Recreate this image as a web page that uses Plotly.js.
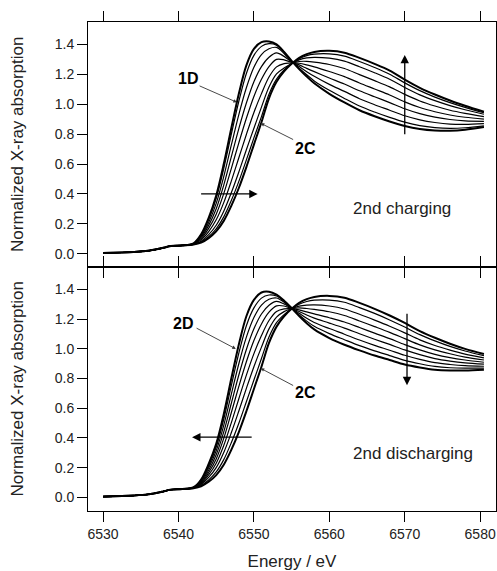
<!DOCTYPE html>
<html>
<head>
<meta charset="utf-8">
<script src="https://cdn.plot.ly/plotly-3.0.1.min.js"></script>
<style>html,body{margin:0;padding:0;background:#fff;}#chart{width:497px;height:571px;}</style>
</head>
<body>
<div id="chart"></div>
<script>
// Energy grid (eV)
const energy = [6530, 6534, 6536, 6538, 6539, 6540.5, 6542, 6543, 6544, 6545, 6546, 6547, 6548, 6549, 6550, 6551, 6552, 6553, 6554, 6555, 6556, 6557, 6558, 6560, 6562, 6564, 6566, 6568, 6570, 6572, 6574, 6576, 6578, 6580.5];

// ---- 2nd charging (top panel): 1D -> 2C ----
const chg_1D = [0.005,0.012,0.02,0.04,0.052,0.056,0.07,0.13,0.24,0.39,0.60,0.84,1.07,1.26,1.37,1.415,1.42,1.40,1.35,1.29,1.235,1.185,1.14,1.07,1.012,0.96,0.92,0.885,0.855,0.835,0.825,0.823,0.83,0.848];
const chg_a = [0.005,0.012,0.02,0.04,0.052,0.056,0.069,0.126,0.229,0.371,0.570,0.798,1.020,1.206,1.327,1.387,1.405,1.395,1.348,1.288,1.241,1.197,1.156,1.093,1.039,0.988,0.948,0.912,0.880,0.857,0.844,0.839,0.843,0.856];
const chg_b = [0.005,0.012,0.02,0.04,0.052,0.056,0.068,0.118,0.210,0.337,0.516,0.726,0.931,1.110,1.247,1.332,1.371,1.380,1.339,1.286,1.252,1.218,1.187,1.133,1.086,1.037,0.997,0.960,0.923,0.896,0.878,0.867,0.865,0.870];
const chg_c = [0.005,0.012,0.02,0.04,0.052,0.056,0.067,0.110,0.190,0.301,0.459,0.648,0.837,1.008,1.151,1.252,1.314,1.343,1.320,1.283,1.263,1.240,1.218,1.176,1.135,1.090,1.050,1.011,0.970,0.937,0.914,0.898,0.889,0.886];
const chg_d = [0.005,0.012,0.02,0.04,0.052,0.056,0.066,0.101,0.170,0.265,0.402,0.570,0.742,0.906,1.052,1.167,1.252,1.300,1.297,1.280,1.274,1.263,1.250,1.219,1.185,1.142,1.102,1.062,1.016,0.978,0.950,0.928,0.913,0.901];
const chg_e = [0.005,0.012,0.02,0.04,0.052,0.056,0.065,0.093,0.148,0.227,0.342,0.486,0.642,0.798,0.945,1.071,1.182,1.250,1.272,1.276,1.286,1.287,1.282,1.266,1.239,1.198,1.158,1.116,1.066,1.022,0.988,0.960,0.939,0.917];
const chg_f = [0.005,0.012,0.02,0.04,0.052,0.056,0.063,0.084,0.128,0.191,0.285,0.408,0.547,0.696,0.839,0.981,1.115,1.203,1.242,1.273,1.297,1.310,1.314,1.308,1.288,1.251,1.211,1.167,1.112,1.063,1.024,0.991,0.963,0.933];
const chg_g = [0.005,0.012,0.02,0.04,0.052,0.056,0.063,0.079,0.114,0.167,0.247,0.356,0.484,0.628,0.775,0.917,1.067,1.168,1.229,1.271,1.304,1.325,1.335,1.337,1.322,1.286,1.246,1.201,1.143,1.091,1.048,1.011,0.979,0.943];
const chg_2C = [0.005,0.012,0.02,0.04,0.052,0.056,0.062,0.075,0.105,0.15,0.22,0.32,0.44,0.58,0.73,0.88,1.04,1.15,1.22,1.27,1.31,1.335,1.35,1.357,1.345,1.31,1.27,1.225,1.165,1.11,1.065,1.025,0.99,0.95];

// ---- 2nd discharging (bottom panel): 2C -> 2D ----
const dis_2D = [0.005,0.012,0.02,0.04,0.052,0.056,0.068,0.12,0.225,0.36,0.56,0.80,1.03,1.22,1.33,1.38,1.385,1.365,1.325,1.275,1.222,1.173,1.131,1.073,1.028,0.99,0.955,0.925,0.895,0.875,0.86,0.855,0.855,0.86];
const dis_a = [0.005,0.012,0.02,0.04,0.052,0.056,0.067,0.116,0.213,0.339,0.526,0.752,0.971,1.156,1.276,1.342,1.363,1.356,1.321,1.275,1.229,1.187,1.152,1.103,1.062,1.022,0.987,0.955,0.923,0.900,0.882,0.873,0.870,0.871];
const dis_b = [0.005,0.012,0.02,0.04,0.052,0.056,0.067,0.110,0.199,0.314,0.485,0.694,0.900,1.079,1.211,1.295,1.334,1.343,1.314,1.274,1.240,1.206,1.178,1.137,1.099,1.060,1.024,0.991,0.957,0.929,0.907,0.895,0.887,0.883];
const dis_c = [0.005,0.012,0.02,0.04,0.052,0.056,0.066,0.104,0.183,0.287,0.441,0.632,0.824,0.996,1.135,1.235,1.294,1.320,1.303,1.273,1.252,1.228,1.207,1.174,1.140,1.102,1.065,1.030,0.993,0.961,0.935,0.918,0.906,0.897];
const dis_d = [0.005,0.012,0.02,0.04,0.052,0.056,0.065,0.098,0.167,0.259,0.397,0.570,0.747,0.913,1.056,1.168,1.247,1.290,1.289,1.273,1.263,1.249,1.236,1.210,1.181,1.144,1.106,1.069,1.029,0.993,0.963,0.941,0.925,0.910];
const dis_e = [0.005,0.012,0.02,0.04,0.052,0.056,0.064,0.092,0.151,0.230,0.349,0.502,0.664,0.823,0.968,1.090,1.191,1.252,1.270,1.272,1.276,1.272,1.266,1.250,1.225,1.188,1.150,1.111,1.069,1.027,0.993,0.967,0.945,0.925];
const dis_f = [0.005,0.012,0.02,0.04,0.052,0.056,0.063,0.086,0.134,0.200,0.302,0.435,0.582,0.734,0.880,1.012,1.135,1.214,1.251,1.271,1.288,1.295,1.297,1.289,1.269,1.233,1.194,1.153,1.108,1.061,1.023,0.992,0.965,0.940];
const dis_g = [0.005,0.012,0.02,0.04,0.052,0.056,0.063,0.080,0.117,0.171,0.254,0.368,0.499,0.644,0.790,0.935,1.080,1.177,1.231,1.271,1.301,1.319,1.328,1.329,1.314,1.278,1.239,1.195,1.147,1.096,1.054,1.017,0.986,0.955];
const dis_2C = [0.005,0.012,0.02,0.04,0.052,0.056,0.062,0.075,0.105,0.15,0.22,0.32,0.44,0.58,0.73,0.88,1.04,1.15,1.22,1.27,1.31,1.335,1.35,1.357,1.345,1.31,1.27,1.225,1.175,1.12,1.075,1.035,1.0,0.965];

const xTicks = [6530, 6540, 6550, 6560, 6570, 6580];
const yTicks = [0.0, 0.2, 0.4, 0.6, 0.8, 1.0, 1.2, 1.4];

const topThin = [chg_a, chg_b, chg_c, chg_d, chg_e, chg_f, chg_g];
const topThick = [chg_1D, chg_2C];
const botThin = [dis_a, dis_b, dis_c, dis_d, dis_e, dis_f, dis_g];
const botThick = [dis_2D, dis_2C];

const traces = [];
function add(arr, xa, ya, w) {
  arr.forEach(yv => traces.push({
    x: energy, y: yv, xaxis: xa, yaxis: ya, type: 'scatter', mode: 'lines',
    line: {color: '#000', width: w, shape: 'spline', smoothing: 0.9},
    hoverinfo: 'skip', showlegend: false
  }));
}
add(topThin, 'x', 'y', 1.2);
add(topThick, 'x', 'y', 2.0);
add(botThin, 'x2', 'y2', 1.2);
add(botThick, 'x2', 'y2', 2.0);

const FONT = 'Liberation Sans, Arial, sans-serif';
const tickFont = {family: FONT, size: 14, color: '#222'};

const xCommon = {
  range: [6528, 6582.1], tickvals: xTicks, ticktext: xTicks.map(String),
  ticks: 'outside', ticklen: 10, tickwidth: 1, tickcolor: '#000',
  showline: true, linecolor: '#000', linewidth: 1, mirror: 'ticks',
  showgrid: false, zeroline: false, tickfont: tickFont
};
const yCommon = {
  tickvals: yTicks, ticktext: yTicks.map(v => v.toFixed(1)),
  ticks: 'outside', ticklen: 10, tickwidth: 1, tickcolor: '#000',
  showline: true, linecolor: '#000', linewidth: 1, mirror: true,
  showgrid: false, zeroline: false, tickfont: tickFont,
  title: {text: 'Normalized X-ray absorption', font: {family: FONT, size: 17, color: '#222'}, standoff: 26}
};

const layout = {
  width: 497, height: 571,
  margin: {l: 88, r: 1, t: 22, b: 60},
  paper_bgcolor: '#fff', plot_bgcolor: '#fff',
  showlegend: false,
  xaxis: Object.assign({}, xCommon, {anchor: 'y', domain: [0, 1], showticklabels: false}),
  yaxis: Object.assign({}, yCommon, {anchor: 'x', domain: [0.5, 1], range: [-0.085, 1.55]}),
  xaxis2: Object.assign({}, xCommon, {anchor: 'y2', domain: [0, 1],
    title: {text: 'Energy / eV', font: {family: FONT, size: 17, color: '#222'}, standoff: 17}}),
  yaxis2: Object.assign({}, yCommon, {anchor: 'x2', domain: [0, 0.5], range: [-0.092, 1.555]}),
  annotations: [
    // top panel
    {xref: 'x', yref: 'y', x: 6541.2, y: 1.17, text: '<b>1D</b>', showarrow: false, font: {family: FONT, size: 16, color: '#000'}},
    {xref: 'x', yref: 'y', x: 6547.75, y: 1.013, axref: 'x', ayref: 'y', ax: 6542.6, ay: 1.127, text: '', showarrow: true, arrowhead: 2, arrowsize: 0.8, arrowwidth: 0.9, arrowcolor: '#333'},
    {xref: 'x', yref: 'y', x: 6556.9, y: 0.705, text: '<b>2C</b>', showarrow: false, font: {family: FONT, size: 16, color: '#000'}},
    {xref: 'x', yref: 'y', x: 6550.9, y: 0.873, axref: 'x', ayref: 'y', ax: 6555.4, ay: 0.759, text: '', showarrow: true, arrowhead: 2, arrowsize: 0.8, arrowwidth: 0.9, arrowcolor: '#333'},
    {xref: 'x', yref: 'y', x: 6550.5, y: 0.4, axref: 'x', ayref: 'y', ax: 6542.8, ay: 0.4, text: '', showarrow: true, arrowhead: 2, arrowsize: 1.3, arrowwidth: 1.3, arrowcolor: '#000'},
    {xref: 'x', yref: 'y', x: 6570, y: 1.33, axref: 'x', ayref: 'y', ax: 6570, ay: 0.79, text: '', showarrow: true, arrowhead: 2, arrowsize: 1.3, arrowwidth: 1.3, arrowcolor: '#000'},
    {xref: 'x', yref: 'y', x: 6569.7, y: 0.30, text: '2nd charging', showarrow: false, font: {family: FONT, size: 17, color: '#222'}},
    // bottom panel
    {xref: 'x2', yref: 'y2', x: 6540.6, y: 1.171, text: '<b>2D</b>', showarrow: false, font: {family: FONT, size: 16, color: '#000'}},
    {xref: 'x2', yref: 'y2', x: 6547.6, y: 1.0, axref: 'x2', ayref: 'y2', ax: 6542.2, ay: 1.145, text: '', showarrow: true, arrowhead: 2, arrowsize: 0.8, arrowwidth: 0.9, arrowcolor: '#333'},
    {xref: 'x2', yref: 'y2', x: 6556.9, y: 0.708, text: '<b>2C</b>', showarrow: false, font: {family: FONT, size: 16, color: '#000'}},
    {xref: 'x2', yref: 'y2', x: 6550.9, y: 0.869, axref: 'x2', ayref: 'y2', ax: 6555.4, ay: 0.748, text: '', showarrow: true, arrowhead: 2, arrowsize: 0.8, arrowwidth: 0.9, arrowcolor: '#333'},
    {xref: 'x2', yref: 'y2', x: 6541.8, y: 0.405, axref: 'x2', ayref: 'y2', ax: 6549.9, ay: 0.405, text: '', showarrow: true, arrowhead: 2, arrowsize: 1.3, arrowwidth: 1.3, arrowcolor: '#000'},
    {xref: 'x2', yref: 'y2', x: 6570.3, y: 0.755, axref: 'x2', ayref: 'y2', ax: 6570.3, ay: 1.247, text: '', showarrow: true, arrowhead: 2, arrowsize: 1.3, arrowwidth: 1.3, arrowcolor: '#000'},
    {xref: 'x2', yref: 'y2', x: 6571.1, y: 0.298, text: '2nd discharging', showarrow: false, font: {family: FONT, size: 17, color: '#222'}}
  ]
};

Plotly.newPlot('chart', traces, layout, {staticPlot: true, displayModeBar: false});
</script>
</body>
</html>
